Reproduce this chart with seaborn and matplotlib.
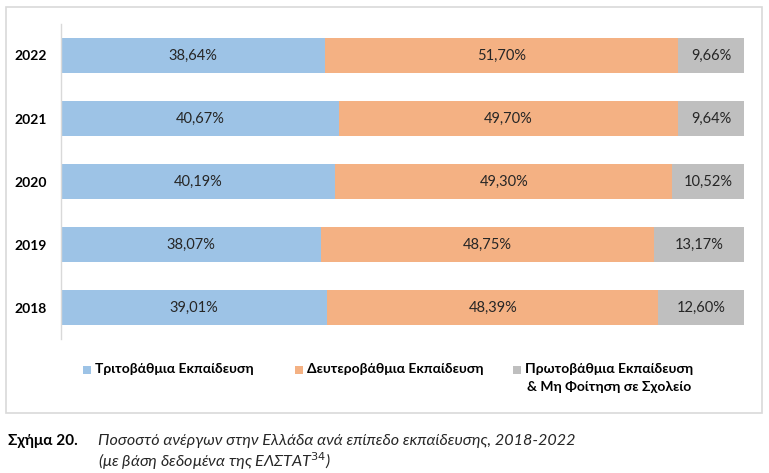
import numpy as np
import pandas as pd
import matplotlib
matplotlib.use("Agg")
import matplotlib.pyplot as plt
import seaborn as sns
from matplotlib.patches import Rectangle

# Data (percentages)
years = ["2022", "2021", "2020", "2019", "2018"]
tertiary = [38.64, 40.67, 40.19, 38.07, 39.01]
secondary = [51.70, 49.70, 49.30, 48.75, 48.39]
primary = [9.66, 9.64, 10.52, 13.17, 12.60]
series_names = ["Τριτοβάθμια Εκπαίδευση", "Δευτεροβάθμια Εκπαίδευση",
                "Πρωτοβάθμια Εκπαίδευση\n& Μη Φοίτηση σε Σχολείο"]
colors = ["#9DC3E6", "#F4B183", "#BFBFBF"]

sns.set_style("white")
plt.rcParams["font.family"] = ["Lato", "Noto Sans", "DejaVu Sans"]

df = pd.DataFrame({"year": years, "t": tertiary, "s": secondary, "p": primary})
df["c1"] = df["t"]
df["c2"] = df["t"] + df["s"]
df["c3"] = df["c2"] + df["p"]

W, H = 769, 473
fig = plt.figure(figsize=(W / 100, H / 100), dpi=100)
ax = fig.add_axes([61 / W, 1 - 339 / H, 683 / W, 315 / H])

# stacked bars: draw cumulative totals back to front
for col, c in zip(["c3", "c2", "c1"], colors[::-1]):
    sns.barplot(data=df, x=col, y="year", order=years, color=c, width=0.55,
                saturation=1, ax=ax, edgecolor="none")

# segment labels
for i in range(len(years)):
    starts = [0, df["c1"][i], df["c2"][i]]
    vals = [df["t"][i], df["s"][i], df["p"][i]]
    for st, v in zip(starts, vals):
        ax.text(st + v / 2, i, f"{v:.2f}%".replace(".", ","), ha="center", va="center",
                fontsize=10.5, color="#262626")

ax.set_xlim(0, 100)
ax.set_ylim(4.5, -0.5)
ax.set_xlabel("")
ax.set_ylabel("")
ax.set_xticks([])
ax.tick_params(axis="y", length=0, pad=10)
for lab in ax.get_yticklabels():
    lab.set_fontweight("bold")
    lab.set_fontsize(10)
    lab.set_color("black")
for s in ["top", "right", "bottom"]:
    ax.spines[s].set_visible(False)
ax.spines["left"].set_color("#D9D9D9")
ax.spines["left"].set_linewidth(1)

# legend (drawn by hand so the grey square sits on the first line)
leg_x = [83, 295, 513]
leg_y = 370
for x0, c, name in zip(leg_x, colors, series_names):
    fig.patches.append(Rectangle((x0 / W, 1 - (leg_y + 4) / H), 8 / W, 8 / H,
                                 transform=fig.transFigure, facecolor=c, edgecolor="none"))
    fig.text((x0 + 12) / W, 1 - (leg_y - 7) / H, name, fontsize=10, fontweight="bold",
             ha="left", va="top", multialignment="center", linespacing=1.55,
             color="black")

# outer frame
fig.patches.append(Rectangle((6 / W, 1 - 413 / H), 756 / W, 406 / H,
                             transform=fig.transFigure, fill=False,
                             edgecolor="#D9D9D9", linewidth=1.2))

# caption
fig.text(8 / W, 1 - 441 / H, "Σχήμα 20.", fontsize=11, fontweight="bold",
         va="center", ha="left", color="black")
fig.text(98 / W, 1 - 441 / H,
         "Ποσοστό ανέργων στην Ελλάδα ανά επίπεδο εκπαίδευσης, 2018-2022",
         fontsize=11.6, style="italic", va="center", ha="left", color="#262626")
fig.text(98 / W, 1 - 461 / H, "(με βάση δεδομένα της ΕΛΣΤΑΤ$^{34}$)",
         fontsize=11.6, style="italic", va="center", ha="left", color="#262626")

fig.savefig("out.png", dpi=100)
